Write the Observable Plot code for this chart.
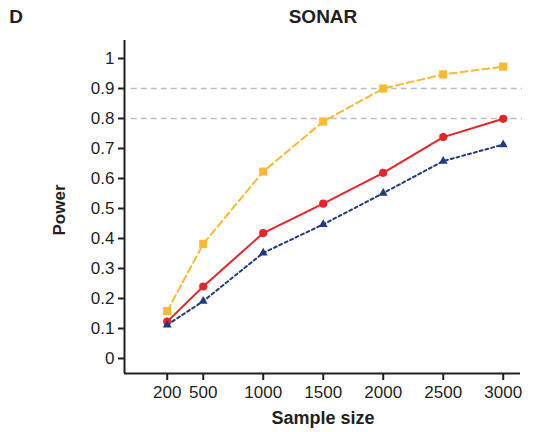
<!DOCTYPE html>
<html>
<head>
<meta charset="utf-8">
<script src="https://cdn.jsdelivr.net/npm/d3@7"></script>
<script src="https://cdn.jsdelivr.net/npm/@observablehq/plot@0.6"></script>
<style>
  html, body { margin: 0; padding: 0; background: #fff; }
</style>
</head>
<body>
<div id="chart"></div>
<script>
const sampleSize = [200, 500, 1000, 1500, 2000, 2500, 3000];
const powerYellow = [0.158, 0.382, 0.623, 0.790, 0.900, 0.947, 0.973];
const powerRed    = [0.123, 0.240, 0.418, 0.516, 0.619, 0.738, 0.799];
const powerBlue   = [0.112, 0.191, 0.352, 0.447, 0.551, 0.658, 0.713];
const yTicks = [0, 0.1, 0.2, 0.3, 0.4, 0.5, 0.6, 0.7, 0.8, 0.9, 1];
const yTickLabels = ["0", "0.1", "0.2", "0.3", "0.4", "0.5", "0.6", "0.7", "0.8", "0.9", "1"];
const xTicks = sampleSize;
const refLines = [0.8, 0.9];
const panelLabel = "D";
const title = "SONAR";
const xLabel = "Sample size";
const yLabel = "Power";

const cYellow = "#F9BA32", cRed = "#EA2329", cBlue = "#213B82", ink = "#231f20";
const toRows = (vals) => sampleSize.map((x, i) => ({x, y: vals[i]}));
const yellow = toRows(powerYellow), red = toRows(powerRed), blue = toRows(powerBlue);

const xDom = [-156, 3144], yDom = [-0.05, 1.06];
const font = "'Liberation Sans', Arial, sans-serif";

const chart = Plot.plot({
  width: 535, height: 432,
  marginLeft: 124, marginRight: 15, marginTop: 40, marginBottom: 59,
  style: {fontFamily: font, fontSize: "17px", color: ink, background: "#fff"},
  x: {domain: xDom},
  y: {domain: yDom},
  marks: [
    Plot.ruleY(refLines, {x1: -100, x2: 3160, stroke: "#bdbdbd", strokeWidth: 1.5, strokeDasharray: "6,4"}),
    Plot.line(yellow, {x: "x", y: "y", stroke: cYellow, strokeWidth: 2, strokeDasharray: "7,4"}),
    Plot.line(red, {x: "x", y: "y", stroke: cRed, strokeWidth: 2}),
    Plot.line(blue, {x: "x", y: "y", stroke: cBlue, strokeWidth: 2, strokeDasharray: "3,3"}),
    Plot.dot(yellow, {x: "x", y: "y", symbol: "square", r: 4.6, fill: cYellow, stroke: null}),
    Plot.dot(red, {x: "x", y: "y", symbol: "circle", r: 4.1, fill: cRed, stroke: null}),
    Plot.dot(blue, {x: "x", y: "y", symbol: "triangle", r: 3.3, fill: cBlue, stroke: null}),
    Plot.axisY({ticks: yTicks, tickFormat: (d, i) => yTickLabels[i], tickSize: 6, tickPadding: 4, strokeWidth: 2, stroke: ink, fill: ink, fontSize: 17, label: null}),
    Plot.axisX({ticks: xTicks, tickFormat: d => String(d), tickSize: 7, tickPadding: 5, strokeWidth: 2, stroke: ink, fill: ink, fontSize: 17, label: null}),
    Plot.ruleX([xDom[0]], {stroke: ink, strokeWidth: 2}),
    Plot.ruleY([yDom[0]], {stroke: ink, strokeWidth: 2})
  ]
});

const svg = d3.select(chart);
svg.append("text").text(panelLabel).attr("x", 16).attr("y", 23)
  .attr("font-family", font).attr("font-weight", "bold").attr("font-size", 19).attr("fill", ink);
svg.append("text").text(title).attr("x", 323).attr("y", 23).attr("text-anchor", "middle")
  .attr("font-family", font).attr("font-weight", "bold").attr("font-size", 19).attr("fill", ink);
svg.append("text").text(xLabel).attr("x", 323).attr("y", 424).attr("text-anchor", "middle")
  .attr("font-family", font).attr("font-weight", "bold").attr("font-size", 18).attr("fill", ink);
svg.append("text").text(yLabel).attr("transform", "translate(65,210) rotate(-90)").attr("text-anchor", "middle")
  .attr("font-family", font).attr("font-weight", "bold").attr("font-size", 17).attr("fill", ink);

document.getElementById("chart").appendChild(chart);
</script>
</body>
</html>
